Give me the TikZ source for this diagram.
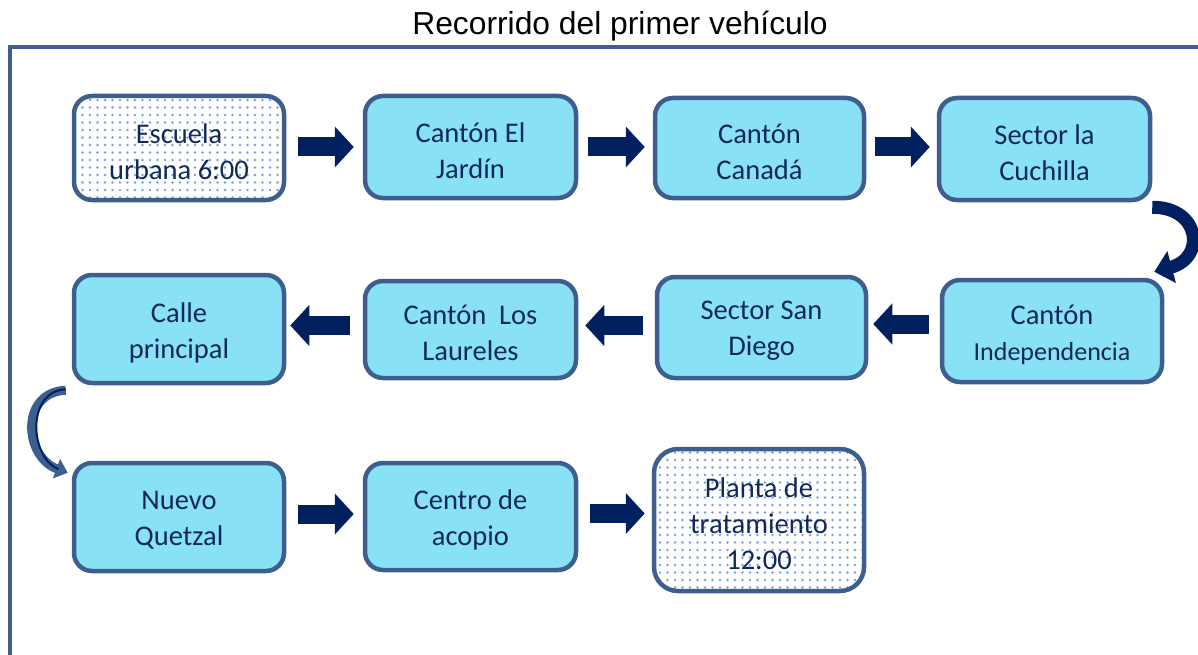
\documentclass[tikz,border=0pt]{standalone}
\usepackage{fontspec}
\setmainfont{Carlito}
\newfontfamily\titlefont{Liberation Sans}
\usetikzlibrary{arrows.meta,patterns.meta,calc}
\definecolor{boxfill}{RGB}{137,225,246}
\definecolor{boxline}{RGB}{62,95,142}
\definecolor{txtcol}{RGB}{16,40,90}
\definecolor{arrcol}{RGB}{0,32,96}
\definecolor{dotcol}{RGB}{120,160,220}
\tikzdeclarepattern{
  name=bluedots,
  type=uncolored,
  bounding box={(-3.75pt,-3.75pt) and (3.75pt,3.75pt)},
  tile size={(7.5pt,7.5pt)},
  code={\fill (0pt,0pt) circle (1.4pt);}
}
\tikzset{
  stepbox/.style={draw=boxline, line width=4.5pt, fill=boxfill, rounded corners=18pt, inner sep=0pt},
  dotbox/.style={stepbox, fill=none, pattern=bluedots, pattern color=dotcol},
  boxtext/.style={text=txtcol, align=center, inner sep=0pt, font=\fontsize{28.5}{36}\selectfont},
  blockarrow/.style={arrcol, line width=19pt, -{Triangle[length=19pt,width=40pt]}},
}
\newcommand{\boxat}[7]{%
  \node[#1, minimum width={#4-#2-4pt}, minimum height={#5-#3-4pt}] (#6) at ({(#2+#4)/2},{(#3+#5)/2}) {};
  \node[boxtext] (#6t) at ($(#6.center)+(0,3.5)$) {#7};}
\begin{document}
\begin{tikzpicture}[x=1pt,y=-1pt]
\useasboundingbox (0,0) rectangle (1198,655);
\draw[boxline, line width=4pt] (10,657) -- (10,47) -- (1200,47);
\node[text=black, font=\titlefont\fontsize{31.8}{36}\selectfont] (title) at (620,26) {Recorrido del primer vehículo};
% row 1
\boxat{dotbox}{72}{94}{286}{202}{b1}{Escuela\\urbana 6:00}
\boxat{stepbox}{363}{94}{578}{200}{b2}{Cantón El\\Jardín}
\boxat{stepbox}{653}{96}{866}{200}{b3}{Cantón\\Canadá}
\boxat{stepbox}{937}{96}{1152}{202}{b4}{Sector la\\Cuchilla}
% row 2
\boxat{stepbox}{72}{273}{286}{385}{b8}{Calle\\principal}
\boxat{stepbox}{363}{279}{578}{380}{b7}{Cantón~ Los\\Laureles}
\boxat{stepbox}{655}{275}{868}{380}{b6}{Sector San\\Diego}
\boxat{stepbox}{940}{278}{1164}{384}{b5}{Cantón\\{\fontsize{26}{36}\selectfont Independencia}}
% row 3
\boxat{stepbox}{72}{461}{286}{573}{b9}{Nuevo\\Quetzal}
\boxat{stepbox}{363}{461}{578}{572}{b10}{Centro de\\acopio}
\boxat{dotbox, rounded corners=24pt}{652}{447}{866}{593}{b11}{Planta de\\tratamiento\\12:00}
% straight arrows
\draw[blockarrow] ($(b1.east)+(12,-1)$) -- ($(b2.west |- b1.east)+(-9,-1)$);
\draw[blockarrow] ($(b2.east)+(10,0)$) -- ($(b3.west |- b2.east)+(-8,0)$);
\draw[blockarrow] ($(b3.east)+(9,-1)$) -- ($(b4.west |- b3.east)+(-7,-1)$);
\draw[blockarrow] ($(b5.west)+(-11,-7)$) -- ($(b6.east |- b5.west)+(5,-7)$);
\draw[blockarrow] ($(b6.west)+(-12,-2)$) -- ($(b7.east |- b6.west)+(7,-2)$);
\draw[blockarrow] ($(b7.west)+(-13,-4)$) -- ($(b8.east |- b7.west)+(4,-4)$);
\draw[blockarrow] ($(b9.east)+(12,-3)$) -- ($(b10.west |- b9.east)+(-9,-3)$);
\draw[blockarrow] ($(b10.east)+(12,-3)$) -- ($(b11.west |- b10.east)+(-7,-3)$);
% curved arrows
\coordinate (c1s) at ($(b4.south east)+(0,5)$);
\coordinate (c1e) at ($(b5.north east)+(-10,-6)$);
\draw[arrcol, line width=13pt, -{Triangle[length=18pt,width=32pt]}]
  (c1s) .. controls ($(c1s)+(48,0)$) and ($(c1e)+(52,-14)$) .. (c1e);
\coordinate (c2s) at ($(b8.south west)+(-6,5)$);
\coordinate (c2e) at ($(b9.north west)+(-4,12)$);
\draw[boxline, line width=9pt, -{Triangle[length=12pt,width=20pt]}]
  (c2s) .. controls ($(c2s)+(-46,2)$) and ($(c2e)+(-44,-16)$) .. (c2e);
\draw[arrcol, line width=2pt, shorten >=10pt]
  ($(c2s)+(0,-1)$) .. controls ($(c2s)+(-40,1)$) and ($(c2e)+(-38,-15)$) .. (c2e);
\end{tikzpicture}
\end{document}
